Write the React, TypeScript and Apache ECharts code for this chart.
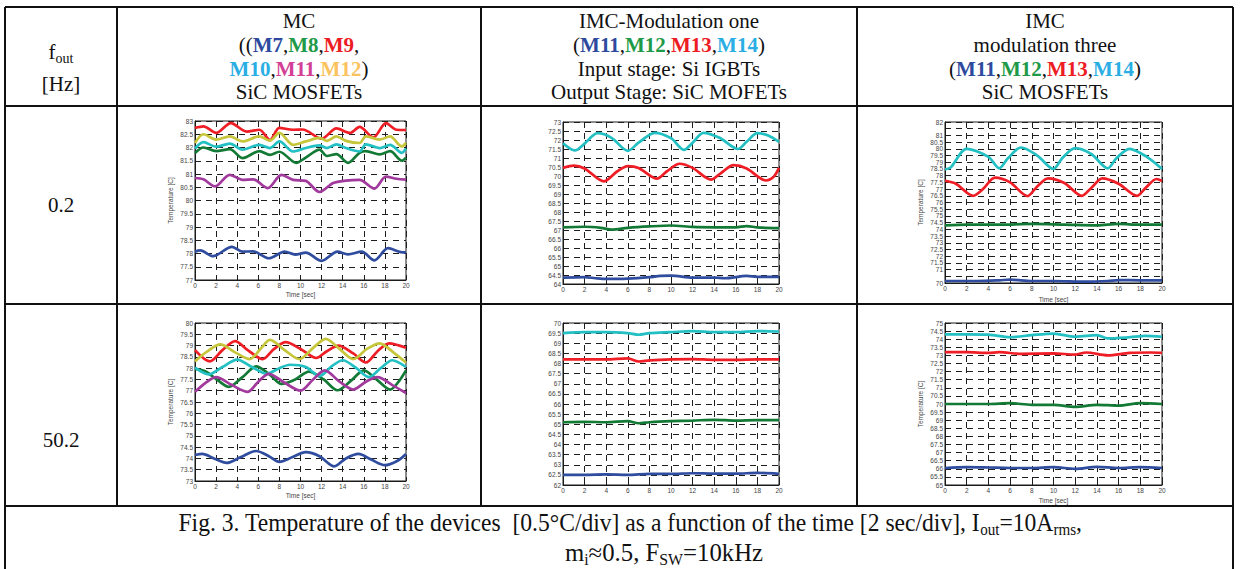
import React, { useEffect, useRef } from "react";
import * as echarts from "echarts";

// ---------- axes ----------
const timeMin = 0;
const timeMax = 20;
const timeStep = 2;
const tempStep = 0.5;

// ---------- MC, fout = 0.2 Hz (y 77..83) ----------
const mc02Range = [77, 83];
const mc02_M7 = [[0,78.07],[0.5,78.12],[1.7,77.9],[3.5,78.25],[4.5,78.07],[5.5,78.08],[7,77.82],[8.5,78.07],[9.5,77.96],[10.5,78.03],[12,77.72],[13.5,78.07],[14.5,77.97],[15.8,78.07],[17,77.74],[18.3,78.2],[19.5,78.05],[20,78.04]];
const mc02_M8 = [[0,81.79],[0.8,82.0],[2,81.86],[3.3,81.94],[4.5,81.6],[6.1,81.86],[7.1,81.72],[8,81.84],[9.6,81.42],[10.5,81.62],[11.8,81.92],[12.5,81.68],[13.4,81.75],[14.5,81.42],[15.6,81.8],[16.2,81.86],[17.5,81.74],[18.5,81.86],[19.6,81.5],[20,81.62]];
const mc02_M9 = [[0,82.74],[0.8,82.8],[2,82.55],[3.4,82.92],[4.9,82.6],[6.1,82.67],[7.1,82.28],[8,82.74],[9.3,82.67],[10.2,82.68],[12,82.33],[13.4,82.72],[14.7,82.55],[15.6,82.78],[16.9,82.38],[18.1,82.92],[19.1,82.67],[20,82.66]];
const mc02_M10 = [[0,81.96],[0.8,82.2],[2,82.03],[3.3,82.15],[4.5,81.92],[6.1,82.1],[7.1,81.98],[8,82.23],[9.3,81.85],[10.5,81.98],[11.8,82.08],[12.5,81.98],[13.4,82.12],[14.3,81.98],[15.6,81.85],[16.2,82.12],[17.5,81.98],[18.5,82.1],[19.6,81.8],[20,81.96]];
const mc02_M11 = [[0,80.85],[0.8,80.8],[1.9,80.53],[3.3,80.97],[4.5,80.78],[5.5,80.8],[6.9,80.47],[8.2,80.97],[9.3,80.78],[10.5,80.74],[11.8,80.32],[13.1,80.66],[14.3,80.75],[15.6,80.78],[17,80.45],[18.1,80.9],[19.1,80.82],[20,80.79]];
const mc02_M12 = [[0,82.17],[0.8,82.5],[2,82.3],[3.3,82.42],[4.5,82.23],[6.1,82.42],[7.1,82.26],[8,82.55],[9.3,82.1],[10.5,82.23],[11.8,82.36],[12.5,82.25],[13.4,82.42],[14.3,82.25],[15.6,82.17],[16.2,82.42],[17.5,82.3],[18.5,82.42],[19.6,82.04],[20,82.17]];

// ---------- IMC modulation one, fout = 0.2 Hz (y 64..73) ----------
const imc1_02Range = [64, 73];
const imc1_02_M11 = [[0,64.35],[2,64.38],[3,64.32],[4,64.28],[6,64.3],[8,64.38],[9,64.45],[10,64.47],[12,64.35],[14,64.36],[15,64.32],[17,64.45],[18,64.4],[20,64.4]];
const imc1_02_M12 = [[0,67.15],[2,67.18],[3.5,67.12],[4.5,67.02],[6,67.12],[8,67.2],[10,67.25],[12,67.17],[14,67.15],[16,67.15],[17,67.22],[18,67.15],[20,67.1]];
const imc1_02_M13 = [[0,70.45],[1,70.58],[2,70.42],[3.8,69.7],[5,70.25],[6,70.55],[7,70.45],[8.7,69.85],[9.6,70.25],[10.8,70.68],[12,70.45],[13.7,69.8],[14.6,70.15],[15.8,70.6],[17,70.42],[18.8,69.75],[19.5,69.95],[20,70.45]];
const imc1_02_M14 = [[0,71.82],[1.1,71.42],[2,71.8],[3.2,72.38],[4.5,72.12],[6,71.4],[7,71.85],[8.5,72.4],[10,72.1],[11.2,71.45],[12,71.85],[13,72.4],[14.5,72.12],[16.2,71.5],[17,71.9],[18,72.38],[19,72.25],[20,71.9]];

// ---------- IMC modulation three, fout = 0.2 Hz (y 70..82) ----------
const imc3_02Range = [70, 82];
const imc3_02_M11 = [[0,70.15],[3,70.15],[5,70.2],[6,70.25],[8,70.15],[10,70.15],[13,70.1],[15,70.15],[16,70.22],[18,70.2],[20,70.2]];
const imc3_02_M12 = [[0,74.3],[2,74.35],[5,74.35],[8,74.4],[11,74.35],[14,74.3],[16,74.4],[18,74.35],[20,74.35]];
const imc3_02_M13 = [[0,77.62],[1,77.4],[2.6,76.5],[3.5,77.0],[4.6,77.85],[6,77.5],[7.6,76.48],[8.5,77.2],[9.5,77.8],[11,77.45],[12.6,76.5],[13.5,77.1],[14.5,77.8],[16,77.4],[17.7,76.5],[18.5,77.1],[19.5,77.75],[20,77.6]];
const imc3_02_M14 = [[0,78.48],[0.5,78.6],[2,80.0],[4,79.4],[5,78.55],[5.8,79.3],[7,80.1],[8.5,79.5],[10,78.5],[10.8,79.3],[12,80.05],[13.5,79.6],[15,78.55],[15.8,79.3],[17,80.0],[18.5,79.45],[20,78.5]];

// ---------- MC, fout = 50.2 Hz (y 73..80) ----------
const mc50Range = [73, 80];
const mc50_M7 = [[0,74.15],[0.7,74.2],[1.8,74.0],[3,73.8],[4.3,74.05],[5.8,74.33],[7,74.1],[8,73.85],[9.2,74.05],[10.5,74.28],[11.8,74.1],[13.2,73.65],[14.3,74.0],[15.5,74.2],[16.7,73.95],[18,73.7],[19.2,73.9],[20,74.2]];
const mc50_M8 = [[0,77.97],[1,77.85],[2.2,77.45],[3.2,77.17],[4.5,77.6],[5.8,78.08],[7,77.75],[8.2,77.3],[9.5,77.5],[10.8,77.85],[12.2,77.5],[13.5,77.02],[14.8,77.45],[16,77.9],[17.2,77.5],[18.5,77.05],[19.3,77.4],[20,77.9]];
const mc50_M9 = [[0,78.8],[1.4,78.3],[2.6,78.8],[3.8,79.2],[5,78.8],[6.4,78.4],[7.5,78.85],[8.6,79.15],[10,78.85],[11.5,78.45],[12.5,78.75],[13.6,79.0],[15,78.65],[16.2,78.25],[17.3,78.75],[18.4,79.1],[20,78.9]];
const mc50_M10 = [[0,78.02],[1.3,77.72],[2.6,78.05],[4,78.38],[5.4,78.05],[6.8,77.75],[8,78.0],[9,78.15],[10.5,78.05],[11.8,77.65],[13,78.1],[14,78.35],[15.3,78.0],[16.5,77.6],[17.6,78.0],[18.7,78.35],[20,78.05]];
const mc50_M11 = [[0,76.95],[1,77.35],[2,77.6],[3.5,77.25],[5,76.95],[6,77.4],[7,77.75],[8.5,77.35],[10,77.0],[11.2,77.5],[12.3,77.9],[13.7,77.4],[15,77.05],[16.2,77.4],[17.3,77.6],[18.7,77.25],[20,76.9]];
const mc50_M12 = [[0,78.3],[1.2,78.75],[2.4,79.05],[3.8,78.7],[5.2,78.4],[6.2,78.85],[7.1,79.25],[8.5,78.8],[9.9,78.4],[11.2,78.9],[12.4,79.3],[13.7,78.85],[15,78.4],[16.3,78.85],[17.5,79.1],[18.8,78.7],[20,78.25]];

// ---------- IMC modulation one, fout = 50.2 Hz (y 62..70) ----------
const imc1_50Range = [62, 70];
const imc1_50_M11 = [[0,62.5],[2,62.5],[4,62.52],[6,62.5],[8,62.55],[10,62.55],[12,62.58],[14,62.56],[16,62.56],[18,62.6],[20,62.55]];
const imc1_50_M12 = [[0,65.1],[2,65.12],[4,65.1],[6,65.15],[7,65.05],[8,65.1],[10,65.15],[12,65.18],[14,65.22],[16,65.18],[18,65.2],[20,65.2]];
const imc1_50_M13 = [[0,68.2],[2,68.2],[4,68.2],[6,68.25],[7,68.1],[8,68.15],[10,68.2],[12,68.22],[14,68.18],[16,68.18],[18,68.2],[20,68.2]];
const imc1_50_M14 = [[0,69.5],[2,69.55],[4,69.55],[6,69.5],[7,69.42],[8,69.5],[10,69.55],[12,69.6],[14,69.55],[16,69.55],[18,69.6],[20,69.58]];

// ---------- IMC modulation three, fout = 50.2 Hz (y 65..75) ----------
const imc3_50Range = [65, 75];
const imc3_50_M11 = [[0,66.05],[2,66.1],[4,66.08],[6,66.05],[8,66.05],[10,66.1],[12,66.0],[14,66.12],[16,66.05],[18,66.1],[20,66.05]];
const imc3_50_M12 = [[0,70.0],[2,70.0],[4,70.0],[6,70.05],[8,69.95],[10,69.95],[12,69.82],[14,69.95],[16,69.9],[18,70.05],[20,70.0]];
const imc3_50_M13 = [[0,73.2],[2,73.2],[4,73.15],[5,73.2],[7,73.1],[10,73.12],[12,73.05],[13,73.18],[15,73.0],[17,73.15],[19,73.18],[20,73.15]];
const imc3_50_M14 = [[0,74.3],[2,74.3],[4,74.28],[6,74.12],[8,74.25],[10,74.35],[12,74.15],[14,74.25],[15,74.05],[17,74.12],[18.5,74.2],[20,74.15]];

// ---------- texts ----------
const rowLabels = ["0.2", "50.2"];
const xName = "Time [sec]";
const yName = "Temperature [C]";

// ---------- colours ----------
const C_BLUE = "#2f4c9f";
const C_GREEN = "#137a36";
const C_RED = "#ef1d25";
const C_CYAN = "#22bfc3";
const C_MAG = "#a23a9e";
const C_YEL = "#c6c63a";

const SERIF = '"Liberation Serif", "Times New Roman", serif';
const SANS = '"Liberation Sans", Arial, sans-serif';

type Panel = {
  box: [number, number, number, number];
  range: number[];
  xname: boolean;
  yname: boolean;
  xGap: number;
  series: { data: number[][]; color: string }[];
};

const panels: Panel[] = [
  { box: [195, 121, 211, 159], range: mc02Range, xname: true, yname: true, xGap: 11,
    series: [
      { data: mc02_M7, color: C_BLUE }, { data: mc02_M8, color: C_GREEN }, { data: mc02_M9, color: C_RED },
      { data: mc02_M10, color: C_CYAN }, { data: mc02_M11, color: C_MAG }, { data: mc02_M12, color: C_YEL },
    ] },
  { box: [563, 122, 216, 162], range: imc1_02Range, xname: false, yname: false, xGap: 11,
    series: [
      { data: imc1_02_M11, color: C_BLUE }, { data: imc1_02_M12, color: C_GREEN },
      { data: imc1_02_M13, color: C_RED }, { data: imc1_02_M14, color: C_CYAN },
    ] },
  { box: [945, 122, 217, 161], range: imc3_02Range, xname: true, yname: true, xGap: 13,
    series: [
      { data: imc3_02_M11, color: C_BLUE }, { data: imc3_02_M12, color: C_GREEN },
      { data: imc3_02_M13, color: C_RED }, { data: imc3_02_M14, color: C_CYAN },
    ] },
  { box: [195, 323, 211, 158], range: mc50Range, xname: true, yname: true, xGap: 11,
    series: [
      { data: mc50_M7, color: C_BLUE }, { data: mc50_M8, color: C_GREEN }, { data: mc50_M9, color: C_RED },
      { data: mc50_M10, color: C_CYAN }, { data: mc50_M11, color: C_MAG }, { data: mc50_M12, color: C_YEL },
    ] },
  { box: [563, 323, 216, 162], range: imc1_50Range, xname: false, yname: false, xGap: 11,
    series: [
      { data: imc1_50_M11, color: C_BLUE }, { data: imc1_50_M12, color: C_GREEN },
      { data: imc1_50_M13, color: C_RED }, { data: imc1_50_M14, color: C_CYAN },
    ] },
  { box: [945, 323, 217, 162], range: imc3_50Range, xname: true, yname: true, xGap: 12,
    series: [
      { data: imc3_50_M11, color: C_BLUE }, { data: imc3_50_M12, color: C_GREEN },
      { data: imc3_50_M13, color: C_RED }, { data: imc3_50_M14, color: C_CYAN },
    ] },
];

const HEAD = 21;
const SUBF = 14;

function serifRich() {
  const base = { fontFamily: SERIF, fontSize: HEAD, fill: "#111", lineHeight: 30, verticalAlign: "middle" };
  const bold = (c: string) => ({ ...base, fontWeight: "bold", fill: c });
  return {
    n: base,
    s: { fontFamily: SERIF, fontSize: SUBF, fill: "#111", lineHeight: 14, padding: [12, 0, 0, 0] },
    bB: bold("#2e4a9e"),
    bG: bold("#1f9a48"),
    bR: bold("#ed1c24"),
    bC: bold("#2aaee3"),
    bM: bold("#d43f96"),
    bO: bold("#fbc35f"),
  };
}

function txt(x: number, y: number, text: string, rich: any, extra: any = {}) {
  return {
    type: "text",
    x,
    y,
    ...extra,
    style: { text, rich, align: "center", verticalAlign: "middle" },
    z: 10,
  };
}

function measure(s: string, size: number) {
  const c = document.createElement("canvas").getContext("2d");
  if (!c) return s.length * size * 0.45;
  c.font = `${size}px "Liberation Serif"`;
  return c.measureText(s).width;
}

export default function App() {
  const ref = useRef<HTMLDivElement>(null);

  useEffect(() => {
    if (!ref.current) return;
    const chart = echarts.init(ref.current, undefined, { renderer: "svg" });

    const grids: any[] = [];
    const xAxes: any[] = [];
    const yAxes: any[] = [];
    const series: any[] = [];

    panels.forEach((p, i) => {
      const [left, top, width, height] = p.box;
      grids.push({ left, top, width, height, show: true, borderColor: "#1a1a1a", borderWidth: 1, backgroundColor: "#fff", containLabel: false });
      xAxes.push({
        type: "value", gridIndex: i, min: timeMin, max: timeMax, interval: timeStep,
        name: p.xname ? xName : "", nameLocation: "middle", nameGap: p.xGap,
        nameTextStyle: { fontFamily: SANS, fontSize: 6.5, color: "#444" },
        axisLine: { show: true, lineStyle: { color: "#1a1a1a", width: 1 } },
        axisTick: { show: true, inside: true, length: 2.5, lineStyle: { color: "#1a1a1a" } },
        axisLabel: { fontFamily: SANS, fontSize: 6.5, color: "#444", margin: 2, showMinLabel: true, showMaxLabel: true, hideOverlap: false },
        splitLine: { show: true, lineStyle: { color: "#1e1e1e", width: 1, type: [6, 5] } },
      });
      yAxes.push({
        type: "value", gridIndex: i, min: p.range[0], max: p.range[1], interval: tempStep,
        name: p.yname ? yName : "", nameLocation: "middle", nameGap: 21, nameRotate: 90,
        nameTextStyle: { fontFamily: SANS, fontSize: 6.5, color: "#444" },
        axisLine: { show: true, lineStyle: { color: "#1a1a1a", width: 1 } },
        axisTick: { show: true, inside: true, length: 2.5, lineStyle: { color: "#1a1a1a" } },
        axisLabel: { fontFamily: SANS, fontSize: 6.5, color: "#444", margin: 2, showMinLabel: true, showMaxLabel: true, hideOverlap: false },
        splitLine: { show: true, lineStyle: { color: "#1e1e1e", width: 1, type: [6, 5] } },
      });
      p.series.forEach((s) => {
        series.push({
          type: "line", xAxisIndex: i, yAxisIndex: i, data: s.data,
          showSymbol: false, smooth: 0.3, silent: true,
          lineStyle: { color: s.color, width: 2.7 },
          itemStyle: { color: s.color },
        });
      });
    });

    // ---------- table ----------
    const L = 5, R = 1233, c1 = 117, c2 = 481, c3 = 857;
    const r0 = 7, r1 = 106, r2 = 304, r3 = 506, bottom = 569;
    const lineStyle = { stroke: "#111", lineWidth: 2 };
    const ln = (x1: number, y1: number, x2: number, y2: number) => ({ type: "line", shape: { x1, y1, x2, y2 }, style: lineStyle, z: 20 });
    const tableLines = [
      ln(L, r0, R, r0), ln(L, r1, R, r1), ln(L, r2, R, r2), ln(L, r3, R, r3),
      ln(L, r0, L, bottom), ln(R, r0, R, bottom),
      ln(c1, r0, c1, r3), ln(c2, r0, c2, r3), ln(c3, r0, c3, r3),
    ];

    const rich = serifRich();
    const cx0 = (L + c1) / 2, cx1 = (c1 + c2) / 2, cx2 = (c2 + c3) / 2, cx3 = (c3 + R) / 2;
    const ly = [21, 45, 68.5, 92];

    const header = [
      txt(cx0, 52, "{n|f}{s|out}", rich),
      txt(cx0, 84, "{n|[Hz]}", rich),
      txt(cx1, ly[0], "{n|MC}", rich),
      txt(cx1, ly[1], "{n|((}{bB|M7}{n|,}{bG|M8}{n|,}{bR|M9}{n|,}", rich),
      txt(cx1, ly[2], "{bC|M10}{n|,}{bM|M11}{n|,}{bO|M12}{n|)}", rich),
      txt(cx1, ly[3], "{n|SiC MOSFETs}", rich),
      txt(cx2, ly[0], "{n|IMC-Modulation one}", rich),
      txt(cx2, ly[1], "{n|(}{bB|M11}{n|,}{bG|M12}{n|,}{bR|M13}{n|,}{bC|M14}{n|)}", rich),
      txt(cx2, ly[2], "{n|Input stage: Si IGBTs}", rich),
      txt(cx2, ly[3], "{n|Output Stage: SiC MOFETs}", rich),
      txt(cx3, ly[0], "{n|IMC}", rich),
      txt(cx3, ly[1], "{n|modulation three}", rich),
      txt(cx3, ly[2], "{n|(}{bB|M11}{n|,}{bG|M12}{n|,}{bR|M13}{n|,}{bC|M14}{n|)}", rich),
      txt(cx3, ly[3], "{n|SiC MOSFETs}", rich),
      txt(cx0, 205, `{n|${rowLabels[0]}}`, rich),
      txt(cx0, 440, `{n|${rowLabels[1]}}`, rich),
    ];

    // caption (condensed serif)
    const capF = 25;
    const capS = 16;
    const capRich = {
      n: { fontFamily: SERIF, fontSize: capF, fill: "#111", lineHeight: 34 },
      s: { fontFamily: SERIF, fontSize: capS, fill: "#111", lineHeight: 16, padding: [14, 0, 0, 0] },
    };
    const cap1a = "Fig. 3. Temperature of the devices  [0.5°C/div] as a function of the time [2 sec/div], I";
    const cap1w = measure(cap1a + "=10A,", capF) + measure("outrms", capS);
    const capScale = 904 / cap1w;
    const caption = [
      txt(630, 522, `{n|${cap1a}}{s|out}{n|=10A}{s|rms}{n|,}`, capRich, { scaleX: capScale }),
      txt(664, 552, "{n|m}{s|i}{n|≈0.5, F}{s|SW}{n|=10kHz}", capRich, { scaleX: capScale * 1.05 }),
    ];

    chart.setOption({
      animation: false,
      backgroundColor: "#ffffff",
      grid: grids,
      xAxis: xAxes,
      yAxis: yAxes,
      series,
      graphic: { elements: [...tableLines, ...header, ...caption] },
    });

    return () => chart.dispose();
  }, []);

  return (
    <div
      ref={ref}
      style={{ position: "absolute", left: 0, top: 0, width: 1240, height: 569, background: "#fff" }}
    />
  );
}
